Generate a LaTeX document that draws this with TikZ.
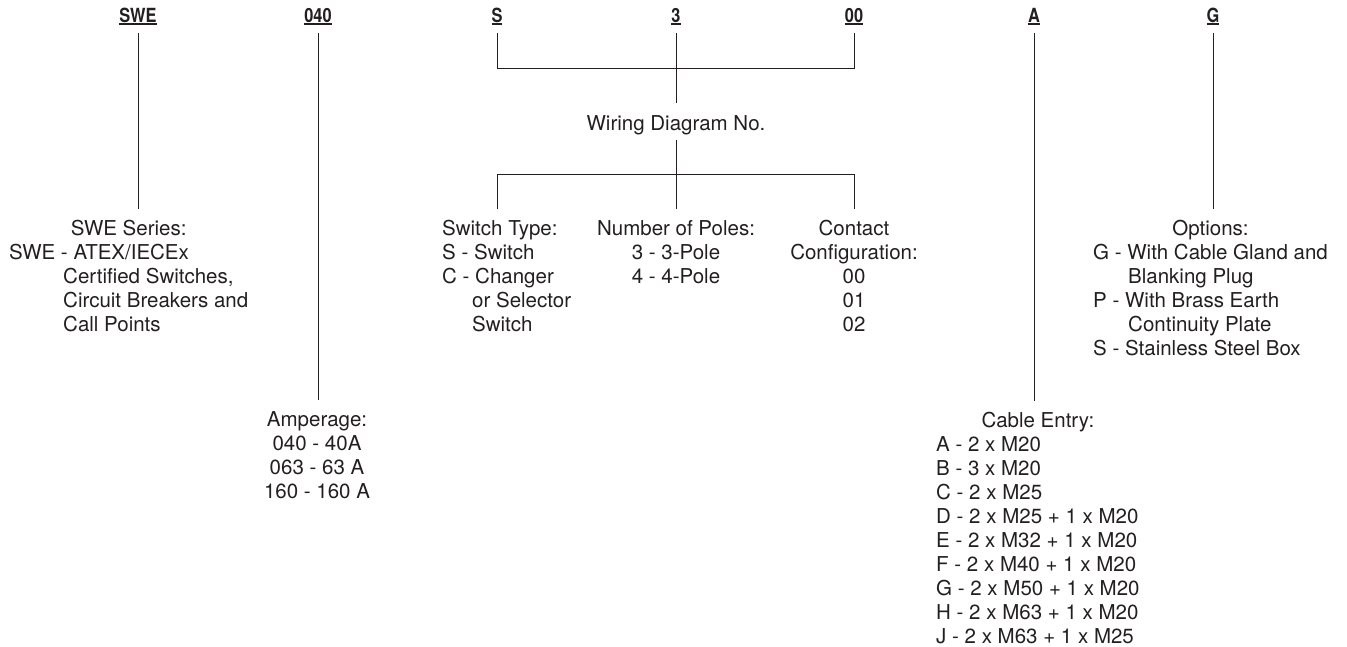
\documentclass[tikz,border=0pt]{standalone}
\usepackage{fontspec}
\setmainfont{TeX Gyre Heros}
\newfontfamily\codefont[FakeStretch=0.84]{TeX Gyre Heros}
\definecolor{ink}{HTML}{231F20}
\newsavebox\codebox
\newcommand\ulcode[1]{\sbox\codebox{#1}\rlap{\rule[-3pt]{\wd\codebox}{1.7pt}}\usebox\codebox}
\newcommand\lblsize{\fontsize{20.5}{24}\selectfont}

\begin{document}
\begin{tikzpicture}[x=1pt,y=1pt,
	code/.style={font=\codefont\fontsize{19.5}{22}\selectfont\bfseries,text=ink,inner sep=0pt,outer ysep=8pt,anchor=base},
	info/.style={font=\lblsize,text=ink,inner sep=0pt,outer ysep=9pt,anchor=base},
	lead/.style={draw=ink,line width=0.9pt}]
	\useasboundingbox (0,0) rectangle (1347,-646);
	\coordinate (topbar) at (0,-68);
	\coordinate (botbar) at (0,-174);

	\node[code] (swe) at (138,-22) {\ulcode{SWE}};
	\node[code] (amp) at (318,-22) {\ulcode{040}};
	\node[code] (sw) at (497,-22) {\ulcode{S}};
	\node[code] (poles) at (676,-22) {\ulcode{3}};
	\node[code] (cfg) at (854,-22) {\ulcode{00}};
	\node[code] (entry) at (1034,-22) {\ulcode{A}};
	\node[code] (opt) at (1213,-22) {\ulcode{G}};

	\node[info,text height=17pt,text depth=0pt,outer ysep=10pt] (wiring) at (676,-130) {Wiring Diagram No.};

	\node[info,anchor=base west] (sweinfo) at (9,-235) {\begin{tabular}[t]{@{}l@{}}\multicolumn{1}{@{}c@{}}{SWE Series:}\\SWE - ATEX/IECEx\\\hspace*{54pt}Certified Switches,\\\hspace*{54pt}Circuit Breakers and\\\hspace*{54pt}Call Points\end{tabular}};
	\node[info] (ampinfo) at (317,-426) {\begin{tabular}[t]{@{}c@{}}Amperage:\\040 - 40A\\063 - 63 A\\160 - 160 A\end{tabular}};
	\node[info,anchor=base west] (typeinfo) at (442,-235) {\begin{tabular}[t]{@{}l@{}}Switch Type:\\S - Switch\\C - Changer\\\hspace*{30pt}or Selector\\\hspace*{30pt}Switch\end{tabular}};
	\node[info] (polesinfo) at (676,-235) {\begin{tabular}[t]{@{}c@{}}Number of Poles:\\3 - 3-Pole\\4 - 4-Pole\end{tabular}};
	\node[info] (cfginfo) at (854,-235) {\begin{tabular}[t]{@{}c@{}}Contact\\Configuration:\\00\\01\\02\end{tabular}};
	\node[info,anchor=base west] (entryinfo) at (936,-427) {\begin{tabular}[t]{@{}l@{}}\multicolumn{1}{@{}c@{}}{Cable Entry:}\\A - 2 x M20\\B - 3 x M20\\C - 2 x M25\\D - 2 x M25 + 1 x M20\\E - 2 x M32 + 1 x M20\\F - 2 x M40 + 1 x M20\\G - 2 x M50 + 1 x M20\\H - 2 x M63 + 1 x M20\\J - 2 x M63 + 1 x M25\end{tabular}};
	\node[info,anchor=base west] (optinfo) at (1093,-235) {\begin{tabular}[t]{@{}l@{}}\multicolumn{1}{@{}c@{}}{Options:}\\G - With Cable Gland and\\\hspace*{35pt}Blanking Plug\\P - With Brass Earth\\\hspace*{35pt}Continuity Plate\\S - Stainless Steel Box\end{tabular}};

	\draw[lead] (swe.south) -- (swe.south |- sweinfo.north);
	\draw[lead] (amp.south) -- (amp.south |- ampinfo.north);
	\draw[lead] (sw.south) |- (topbar -| cfg.south) -- (cfg.south);
	\draw[lead] (poles.south) -- (wiring.north);
	\draw[lead] (wiring.south) -- (polesinfo.north);
	\draw[lead] (sw.south |- typeinfo.north) |- (botbar -| cfg.south) -- (cfginfo.north);
	\draw[lead] (entry.south) -- (entry.south |- entryinfo.north);
	\draw[lead] (opt.south) -- (opt.south |- optinfo.north);
\end{tikzpicture}
\end{document}
